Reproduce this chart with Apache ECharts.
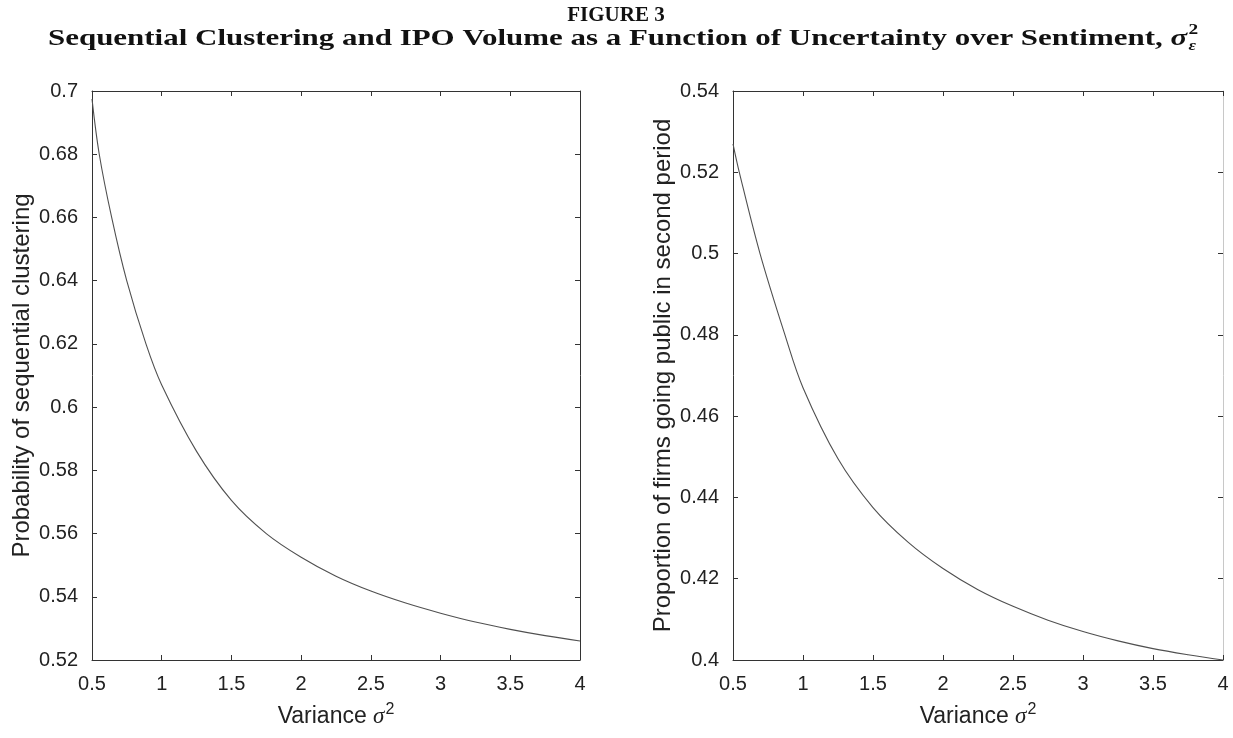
<!DOCTYPE html>
<html>
<head>
<meta charset="utf-8">
<script src="https://cdn.jsdelivr.net/npm/echarts@6/dist/echarts.min.js"></script>
<style>
html,body{margin:0;padding:0;background:#fff;}
#chart{width:1233px;height:738px;}
</style>
</head>
<body>
<div id="chart"></div>
<script>
// Data
const varianceLeft = [0.5, 0.552, 0.641, 0.749, 0.887, 1.0, 1.25, 1.5, 1.75, 2.0, 2.25, 2.5, 2.75, 3.0, 3.25, 3.5, 3.75, 4.0];
const probClustering = [0.6975, 0.68, 0.66, 0.64, 0.62, 0.607, 0.586, 0.5705, 0.5600, 0.5525, 0.5465, 0.5418, 0.5380, 0.5348, 0.5320, 0.5297, 0.5277, 0.5260];
const varianceRight = [0.5, 0.545, 0.693, 0.871, 1.0, 1.25, 1.5, 1.75, 2.0, 2.25, 2.5, 2.75, 3.0, 3.25, 3.5, 3.75, 4.0];
const propSecondPeriod = [0.527, 0.52, 0.50, 0.48, 0.467, 0.4495, 0.4375, 0.4290, 0.4225, 0.4173, 0.4132, 0.4098, 0.4070, 0.4047, 0.4028, 0.4013, 0.4000];
const xTicks = { min: 0.5, max: 4, interval: 0.5 };
const yLeftTicks = { min: 0.52, max: 0.70, interval: 0.02 };
const yRightTicks = { min: 0.40, max: 0.54, interval: 0.02 };
const leftYName = 'Probability of sequential clustering';
const rightYName = 'Proportion of firms going public in second period';
const figureLabel = 'FIGURE 3';
const figureTitle = 'Sequential Clustering and IPO Volume as a Function of Uncertainty over Sentiment, ';

const chart = echarts.init(document.getElementById('chart'));
const axisColor = '#333';
const sans = 'Liberation Sans, Arial, sans-serif';
const labelFont = { color: '#222', fontSize: 20, fontFamily: sans };

function xAxes(gridIndex) {
  return [
    { type: 'value', gridIndex, min: xTicks.min, max: xTicks.max, interval: xTicks.interval, position: 'bottom',
      axisLine: { show: true, lineStyle: { color: axisColor, width: 1 } },
      axisTick: { show: true, inside: true, length: 5, lineStyle: { color: axisColor } },
      axisLabel: Object.assign({ margin: 14 }, labelFont, { formatter: v => String(+v.toFixed(2)) }),
      splitLine: { show: false },
      name: 'Variance {s|σ}{p|2}', nameLocation: 'middle', nameGap: 42,
      nameTextStyle: { color: '#222', fontSize: 23, fontFamily: sans,
        rich: { s: { fontSize: 23, fontStyle: 'italic', fontFamily: 'Liberation Serif, serif', color: '#222' },
                p: { fontSize: 16, verticalAlign: 'top', padding: [0,0,14,1], color: '#222', fontFamily: sans } } } },
    { type: 'value', gridIndex, min: xTicks.min, max: xTicks.max, interval: xTicks.interval, position: 'top',
      axisLine: { show: true, lineStyle: { color: axisColor, width: 1 } },
      axisTick: { show: true, inside: true, length: 5, lineStyle: { color: axisColor } },
      axisLabel: { show: false }, splitLine: { show: false } }
  ];
}
function yAxes(gridIndex, t, name) {
  return [
    { type: 'value', gridIndex, min: t.min, max: t.max, interval: t.interval, position: 'left',
      axisLine: { show: true, lineStyle: { color: axisColor, width: 1 } },
      axisTick: { show: true, inside: true, length: 5, lineStyle: { color: axisColor } },
      axisLabel: Object.assign({ margin: 14 }, labelFont, { formatter: v => String(+v.toFixed(2)) }),
      splitLine: { show: false },
      name, nameLocation: 'middle', nameGap: 58,
      nameTextStyle: { color: '#222', fontSize: 24, fontFamily: sans } },
    { type: 'value', gridIndex, min: t.min, max: t.max, interval: t.interval, position: 'right',
      axisLine: { show: true, lineStyle: { color: gridIndex === 1 ? '#c8c8c8' : axisColor, width: 1 } },
      axisTick: { show: true, inside: true, length: 5, lineStyle: { color: axisColor } },
      axisLabel: { show: false }, splitLine: { show: false } }
  ];
}

// Title line 2 layout (measured so sigma with sub/superscript can follow the text)
const titleFont = 'bold 24px "Liberation Serif", "Times New Roman", serif';
const ctx = document.createElement('canvas').getContext('2d');
ctx.font = titleFont;
const mainW = ctx.measureText(figureTitle).width;
ctx.font = 'italic bold 24px "Liberation Serif", serif';
const sigW = ctx.measureText('σ').width;
const totalW = mainW + sigW + 10;
const targetW = 1152;
const sx = targetW / totalW;
const x0 = -totalW / 2;

const option = {
  backgroundColor: '#fff',
  animation: false,
  graphic: [
    { type: 'text', x: 616, y: 16,
      style: { text: figureLabel, x: 0, y: 0, align: 'center', verticalAlign: 'middle',
        font: 'bold 21px "Liberation Serif", "Times New Roman", serif', fill: '#111' } },
    { type: 'group', x: 624, y: 39, scaleX: sx, scaleY: 1,
      children: [
        { type: 'text', style: { text: figureTitle, x: x0, y: 0, align: 'left', verticalAlign: 'middle', font: titleFont, fill: '#111' } },
        { type: 'text', style: { text: 'σ', x: x0 + mainW, y: 0, align: 'left', verticalAlign: 'middle', font: 'italic bold 24px "Liberation Serif", serif', fill: '#111' } },
        { type: 'text', style: { text: '2', x: x0 + mainW + sigW + 1, y: -9, align: 'left', verticalAlign: 'middle', font: 'bold 15px "Liberation Serif", serif', fill: '#111' } },
        { type: 'text', style: { text: 'ε', x: x0 + mainW + sigW + 1, y: 7, align: 'left', verticalAlign: 'middle', font: 'italic bold 14px "Liberation Serif", serif', fill: '#111' } }
      ] }
  ],
  grid: [
    { left: 92, top: 91, width: 488, height: 569 },
    { left: 733, top: 91, width: 490, height: 569 }
  ],
  xAxis: [...xAxes(0), ...xAxes(1)],
  yAxis: [...yAxes(0, yLeftTicks, leftYName), ...yAxes(1, yRightTicks, rightYName)],
  series: [
    { type: 'line', xAxisIndex: 0, yAxisIndex: 0, smooth: 0.35, symbol: 'none',
      lineStyle: { color: '#505050', width: 1.1 },
      data: varianceLeft.map((x, i) => [x, probClustering[i]]) },
    { type: 'line', xAxisIndex: 2, yAxisIndex: 2, smooth: 0.35, symbol: 'none',
      lineStyle: { color: '#505050', width: 1.1 },
      data: varianceRight.map((x, i) => [x, propSecondPeriod[i]]) }
  ]
};
chart.setOption(option);
</script>
</body>
</html>
